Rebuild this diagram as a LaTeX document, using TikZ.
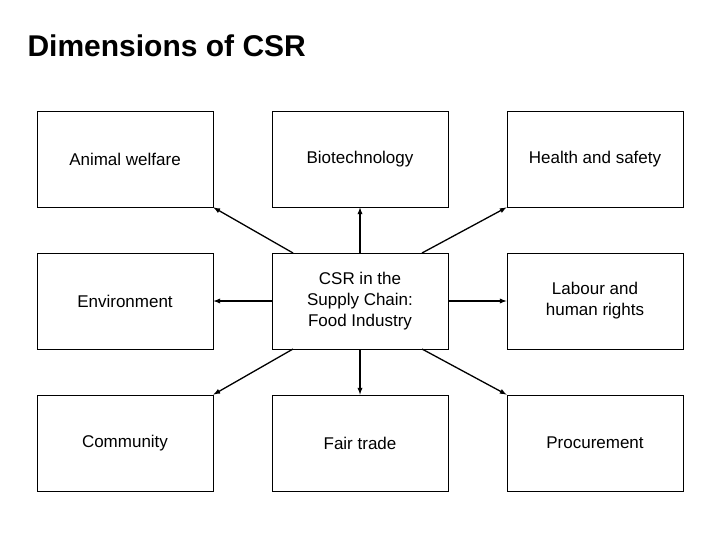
\documentclass[tikz,border=0pt]{standalone}
\usepackage{fontspec}
\setmainfont{Liberation Sans}
\begin{document}
\begin{tikzpicture}[x=1pt,y=-1pt,
  box/.style={draw,line width=0.8pt,minimum width=176pt,minimum height=96pt,align=center,font=\fontsize{17}{21}\selectfont,inner sep=0pt},
  arr/.style={-latex,line width=1.3pt}]
\useasboundingbox (0,0) rectangle (720,540);
\node[anchor=base west,font=\bfseries\fontsize{30}{34}\selectfont] (title) at (24,57) {Dimensions of CSR};
\node[box] (aw) at (125,159) {Animal welfare};
\node[box] (bt) at (360,159) {Biotechnology};
\node[box] (hs) at (595,159) {Health and safety};
\node[box] (en) at (125,301) {Environment};
\node[box] (c) at (360,301) {CSR in the\\Supply Chain:\\Food Industry};
\node[box] (lh) at (595,301) {Labour and\\human rights};
\node[box] (co) at (125,443) {Community};
\node[box] (ft) at (360,443) {Fair trade};
\node[box] (pr) at (595,443) {Procurement};
\coordinate (tl) at (293,253); \coordinate (tr) at (422,253);
\coordinate (bl) at (293,349); \coordinate (br) at (422,349);
\draw[arr] (tl) -- (aw.south east);
\draw[arr] (tr) -- (hs.south west);
\draw[arr] (bl) -- (co.north east);
\draw[arr] (br) -- (pr.north west);
\draw[arr] (c.north) -- (bt.south);
\draw[arr] (c.south) -- (ft.north);
\draw[arr] (c.west) -- (en.east);
\draw[arr] (c.east) -- (lh.west);
\end{tikzpicture}
\end{document}
